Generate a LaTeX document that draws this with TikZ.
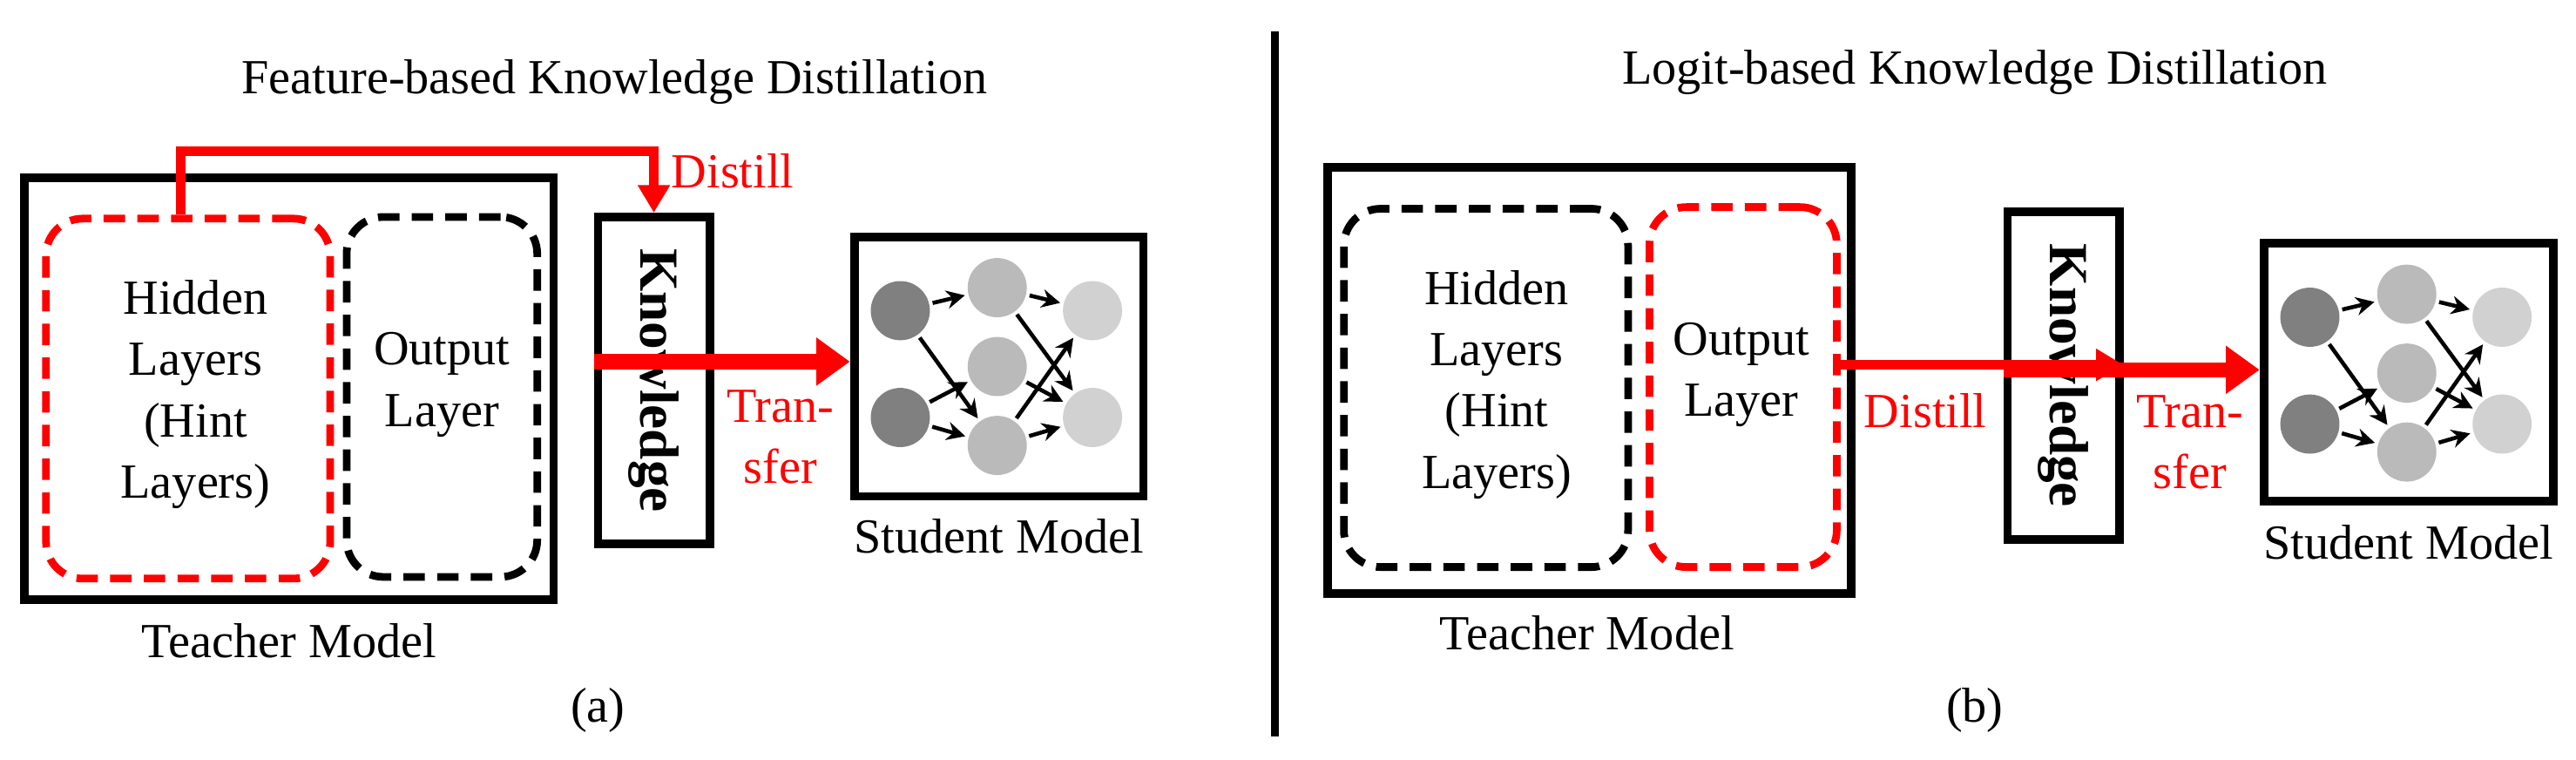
\documentclass[tikz,border=0pt]{standalone}
\usepackage{fontspec}
\setmainfont{Liberation Serif}
\usetikzlibrary{arrows.meta}

\begin{document}
\begin{tikzpicture}[x=0.01886cm,y=-0.01886cm,
  lbl/.style={font=\fontsize{16}{20}\selectfont, align=center},
  box/.style={draw, line width=2.8pt, inner sep=0pt},
  dbox/.style={draw, line width=2.5pt, dash pattern=on 7pt off 4pt,
    rounded corners=12pt, inner sep=0pt},
  know/.style={box, font=\fontsize{18}{20}\selectfont\bfseries,
    rotate=-90, minimum width=199*0.01886cm, minimum height=68*0.01886cm},
  distill/.style={red, line width=3pt, -{Triangle[length=9pt,width=10pt]}},
  transfer/.style={red, line width=5pt, -{Triangle[length=11pt,width=15pt]}},
  neu/.style={circle, minimum size=36*0.01886cm, inner sep=0pt},
  syn/.style={line width=1.3pt, -{Stealth[length=6pt,width=6pt]}, shorten <=1pt, shorten >=1pt}]

  \useasboundingbox (0,0) rectangle (1568,462);

  % divider
  \draw[line width=2.5pt] (776,19) coordinate (top) -- (776,448) coordinate (bot);

  % ---------------- (a) feature-based
  \node[lbl] (atitle) at (374,50) {Feature-based Knowledge Distillation};
  \node[box, minimum width=322*0.01886cm, minimum height=257*0.01886cm] (ateach) at (176,236.5) {};
  \node[dbox, red, minimum width=173*0.01886cm, minimum height=219*0.01886cm] (ahid) at (114.5,242.5) {};
  \node[dbox, minimum width=116*0.01886cm, minimum height=219*0.01886cm] (aout) at (269,241.5) {};
  \node[lbl] at (119,240) {Hidden\\Layers\\(Hint\\Layers)};
  \node[lbl] at (269,234) {Output\\Layer};
  \node[know] (aknow) at (398,231.5) {Knowledge};
  \node[lbl] (ateachlbl) at (176,390) {Teacher Model};
  \node[box, minimum width=176*0.01886cm, minimum height=158*0.01886cm] (astud) at (608,223) {};
  \node[lbl] (astudlbl) at (608,326) {Student Model};
  \node[lbl] (acap) at (364,432) {(a)};

  \coordinate (ad1) at (110,92);
  \draw[distill, rounded corners=0pt] (ahid.north -| ad1) -- (ad1) -| (aknow.west);
  \node[lbl, red] at (446,104) {Distill};
  \draw[transfer] (aknow.south |- 0,220) -- (astud.west |- 0,220);
  \node[lbl, red] at (475,266) {Tran-\\sfer};

  % ---------------- (b) logit-based
  \node[lbl] (btitle) at (1202,44) {Logit-based Knowledge Distillation};
  \node[box, minimum width=319*0.01886cm, minimum height=259*0.01886cm] (bteach) at (967.5,231.5) {};
  \node[dbox, minimum width=173*0.01886cm, minimum height=218*0.01886cm] (bhid) at (904.5,236) {};
  \node[dbox, red, minimum width=114*0.01886cm, minimum height=219*0.01886cm] (bout) at (1061,235.5) {};
  \node[lbl] at (911,234) {Hidden\\Layers\\(Hint\\Layers)};
  \node[lbl] at (1060,228) {Output\\Layer};
  \node[know] (bknow) at (1256,228.5) {Knowledge};
  \node[lbl] (bteachlbl) at (966,385) {Teacher Model};
  \node[box, minimum width=176*0.01886cm, minimum height=157*0.01886cm] (bstud) at (1466,226.5) {};
  \node[lbl] (bstudlbl) at (1466,330) {Student Model};
  \node[lbl] (bcap) at (1202,432) {(b)};

  \draw[distill] (bout.east |- 0,222) -- (bknow.north |- 0,222);
  \node[lbl, red] at (1172,250) {Distill};
  \draw[transfer] (bknow.south |- 0,225) -- (bstud.west |- 0,225);
  \node[lbl, red] at (1333,269) {Tran-\\sfer};

  % student networks
  \foreach \p/\sx/\sy in {a/520/144, b/1378/148} {
    \begin{scope}[shift={(\sx,\sy)}]
      \node[neu, fill=black!50] (\p d1) at (28,45) {};
      \node[neu, fill=black!50] (\p d2) at (28,110) {};
      \node[neu, fill=black!27] (\p m1) at (87,31) {};
      \node[neu, fill=black!27] (\p m2) at (87,79) {};
      \node[neu, fill=black!27] (\p m3) at (87,127) {};
      \node[neu, fill=black!18] (\p o1) at (145,45) {};
      \node[neu, fill=black!18] (\p o2) at (145,110) {};
      \foreach \s/\t in {d1/m1, d1/m3, d2/m2, d2/m3, m1/o1, m1/o2, m2/o2, m3/o1, m3/o2}
        \draw[syn] (\p\s) -- (\p\t);
    \end{scope}
  }

\end{tikzpicture}
\end{document}
